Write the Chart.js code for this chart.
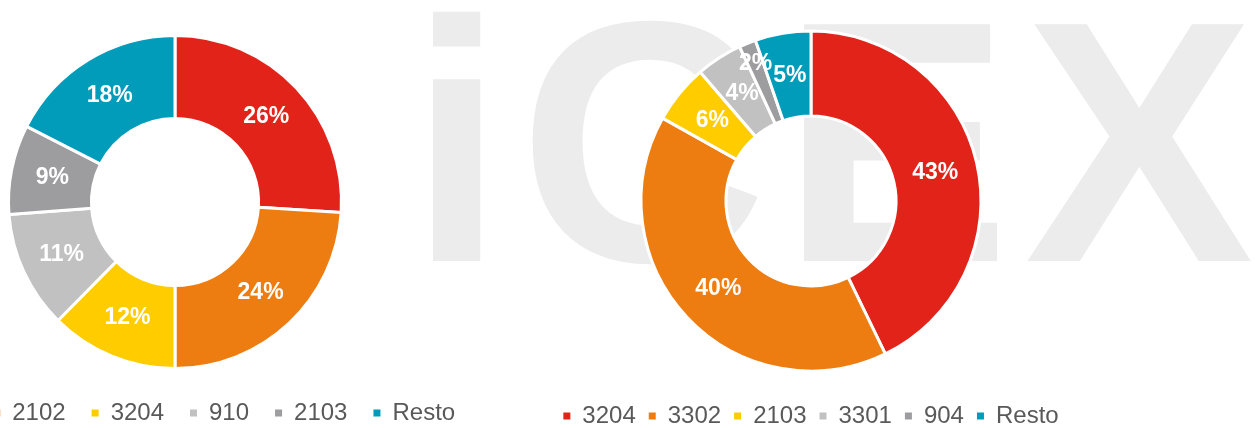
<!DOCTYPE html>
<html>
<head>
<meta charset="utf-8">
<script src="https://cdn.jsdelivr.net/npm/chart.js@4.4.1/dist/chart.umd.min.js"></script>
<style>
  html, body { margin: 0; padding: 0; background: #fff; }
  body { position: relative; width: 1255px; height: 428px; overflow: hidden; }
  .mark {
    position: absolute; left: 409px; top: -30px;
    font: bold 344px "Liberation Sans", Arial, sans-serif;
    line-height: 1; letter-spacing: 14px; color: #ececec; white-space: nowrap;
  }
  .box { position: absolute; top: 0; }
  #leftBox { left: -175px; }
  #rightBox { left: 511px; }
</style>
</head>
<body>
<div class="mark">iCEX</div>
<div class="box" id="leftBox"><canvas id="leftChart" width="700" height="435"></canvas></div>
<div class="box" id="rightBox"><canvas id="rightChart" width="600" height="438"></canvas></div>
<script>
const LEFT_LABELS = ['3302', '2102', '3204', '910', '2103', 'Resto'];
const LEFT_VALUES = [26.0, 24.0, 12.4, 11.4, 8.7, 17.5];

const RIGHT_LABELS = ['3204', '3302', '2103', '3301', '904', 'Resto'];
const RIGHT_VALUES = [42.8, 40.3, 5.6, 4.4, 1.6, 5.3];

const COLORS = ['#e2231a', '#ee7d11', '#ffcc00', '#c2c1c1', '#9d9c9e', '#009cb9'];

const FONT = '"Liberation Sans", Arial, sans-serif';

// white % labels in the middle of each ring piece
const pctLabels = {
  id: 'pctLabels',
  afterDatasetsDraw(chart) {
    const ctx = chart.ctx;
    const meta = chart.getDatasetMeta(0);
    const values = chart.data.datasets[0].data;
    ctx.save();
    ctx.font = 'bold 23px ' + FONT;
    ctx.fillStyle = '#fff';
    ctx.textAlign = 'center';
    ctx.textBaseline = 'middle';
    meta.data.forEach((arc, i) => {
      const p = arc.getProps(['x', 'y', 'startAngle', 'endAngle', 'innerRadius', 'outerRadius']);
      const mid = (p.startAngle + p.endAngle) / 2;
      // tiny slices get their label pushed outwards
      const share = values[i] < 3 ? 0.74 : 0.5;
      const r = p.innerRadius + (p.outerRadius - p.innerRadius) * share;
      ctx.fillText(Math.round(values[i]) + '%', p.x + Math.cos(mid) * r, p.y + Math.sin(mid) * r);
    });
    ctx.restore();
  }
};

function makeChart(id, labels, values, radius, cutout, padTop, legendGap) {
  return new Chart(document.getElementById(id), {
    type: 'doughnut',
    data: {
      labels: labels,
      datasets: [{
        data: values,
        backgroundColor: COLORS,
        borderColor: '#fff',
        borderWidth: 3,
        hoverOffset: 0,
        radius: radius,
        cutout: cutout
      }]
    },
    options: {
      responsive: false,
      animation: false,
      layout: { padding: { top: padTop } },
      plugins: {
        legend: {
          position: 'bottom',
          labels: {
            boxWidth: 7,
            boxHeight: 7,
            padding: legendGap,
            color: '#595959',
            font: { size: 24, family: FONT },
            generateLabels(chart) {
              // plain filled squares, no white outline
              return Chart.overrides.doughnut.plugins.legend.labels.generateLabels(chart)
                .map(item => Object.assign(item, { lineWidth: 0 }));
            }
          }
        },
        tooltip: { enabled: false }
      }
    },
    plugins: [pctLabels]
  });
}

makeChart('leftChart', LEFT_LABELS, LEFT_VALUES, 166.5, '50.2%', 29, 26);
makeChart('rightChart', RIGHT_LABELS, RIGHT_VALUES, 170, '50%', 11, 13);
</script>
</body>
</html>
